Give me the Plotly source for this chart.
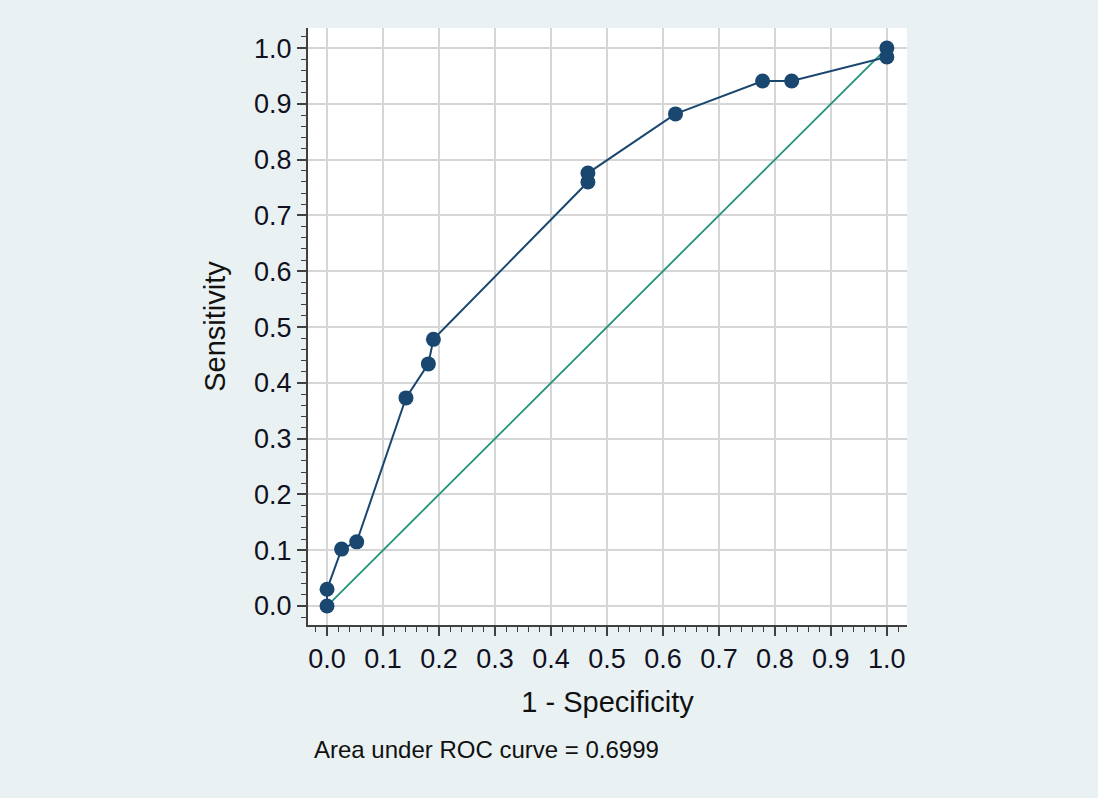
import plotly.graph_objects as go

# ROC points (1 - specificity, sensitivity)
fpr = [0.0, 0.0, 0.026, 0.053, 0.141, 0.181, 0.19, 0.466, 0.466, 0.6225, 0.778, 0.830, 1.0, 1.0]
tpr = [0.0, 0.03, 0.102, 0.115, 0.373, 0.434, 0.478, 0.760, 0.776, 0.882, 0.941, 0.941, 0.984, 1.0]
ref_x = [0.0, 1.0]
ref_y = [0.0, 1.0]
auc_text = "Area under ROC curve = 0.6999"
tick_vals = [round(i * 0.1, 1) for i in range(11)]

navy = "#1a476f"
teal = "#23927b"
bg = "#e9f1f3"
font_fam = "Liberation Sans, Arial, sans-serif"

fig = go.Figure()
fig.add_trace(go.Scatter(x=ref_x, y=ref_y, mode="lines",
                         line=dict(color=teal, width=1.8), showlegend=False))
fig.add_trace(go.Scatter(x=fpr, y=tpr, mode="lines+markers",
                         line=dict(color=navy, width=2),
                         marker=dict(color=navy, size=15), showlegend=False))

axis_common = dict(
    range=[-0.034, 1.036],
    tickvals=tick_vals,
    tickformat=".1f",
    showgrid=True, gridcolor="#d6d6d6", gridwidth=2,
    zeroline=False,
    showline=True, linecolor="#404040", linewidth=2,
    ticks="outside", ticklen=9, tickwidth=2, tickcolor="#404040",
    minor=dict(dtick=0.02, tick0=0, ticks="outside", ticklen=5, tickwidth=1,
               tickcolor="#404040", showgrid=False),
    tickfont=dict(family=font_fam, size=27, color="#111122"),
    title_font=dict(family=font_fam, size=29, color="#111111"),
    mirror=False,
)

fig.update_xaxes(**axis_common, title_text="1 - Specificity", title_standoff=18)
fig.update_yaxes(**axis_common, title_text="Sensitivity", title_standoff=20)

fig.add_annotation(text=auc_text, xref="paper", yref="paper", x=0.007, y=-0.209,
                   xanchor="left", yanchor="middle", showarrow=False,
                   font=dict(family=font_fam, size=24, color="#111111"))

fig.update_layout(
    width=1098, height=798,
    margin=dict(l=308, r=191, t=28, b=173),
    paper_bgcolor=bg, plot_bgcolor="white",
)

fig.write_html("out.html", config={"displayModeBar": False},
               post_script="document.body.style.margin='0';document.body.style.overflow='hidden';")
